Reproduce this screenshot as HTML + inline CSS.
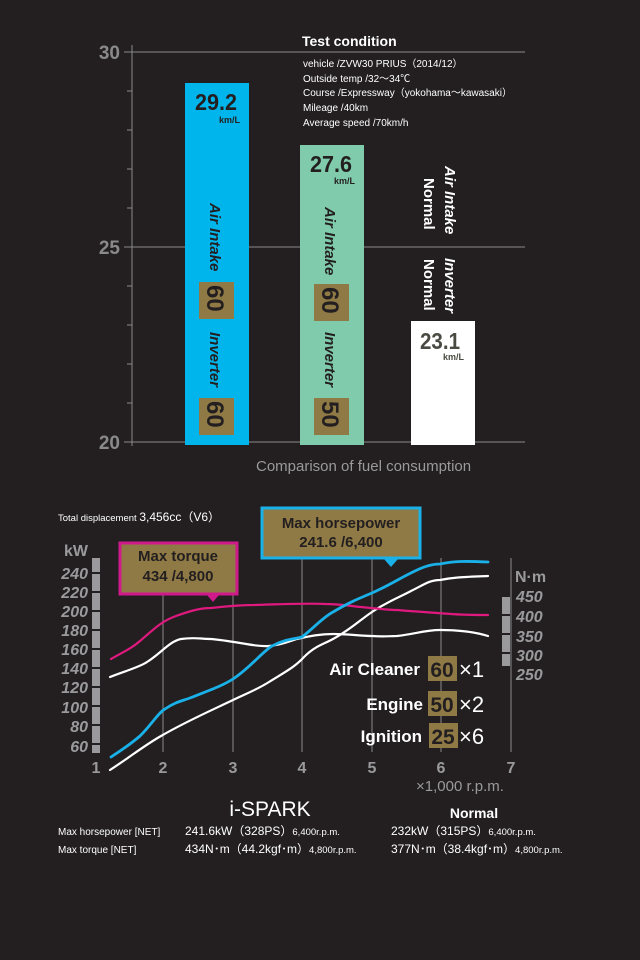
<!DOCTYPE html>
<html><head><meta charset="utf-8"><style>
html,body{margin:0;padding:0;background:#231f20;}
svg{display:block}
text{font-family:"Liberation Sans","Noto Sans CJK JP",sans-serif}
</style></head><body>
<svg width="640" height="960" viewBox="0 0 640 960" xmlns="http://www.w3.org/2000/svg">
<rect width="640" height="960" fill="#231f20"/>
<g stroke="#8a8a8a" stroke-width="1">
<line x1="132" y1="45" x2="132" y2="446"/>
<line x1="124" y1="52" x2="525" y2="52"/>
<line x1="124" y1="247" x2="525" y2="247"/>
<line x1="124" y1="442" x2="525" y2="442"/>
<line x1="127" y1="91" x2="132" y2="91"/><line x1="127" y1="130" x2="132" y2="130"/>
<line x1="127" y1="169" x2="132" y2="169"/><line x1="127" y1="208" x2="132" y2="208"/>
<line x1="127" y1="286" x2="132" y2="286"/><line x1="127" y1="325" x2="132" y2="325"/>
<line x1="127" y1="364" x2="132" y2="364"/><line x1="127" y1="403" x2="132" y2="403"/>
</g>
<g fill="#8a8a8a" font-weight="bold" font-size="19" text-anchor="end">
<text x="120" y="59">30</text><text x="120" y="254">25</text><text x="120" y="449">20</text>
</g>
<text x="302" y="46" fill="#fff" font-weight="bold" font-size="14">Test condition</text>
<g fill="#fff" font-size="10">
<text x="303" y="67">vehicle /ZVW30 PRIUS（2014/12）</text>
<text x="303" y="82">Outside temp /32～34℃</text>
<text x="303" y="96">Course /Expressway（yokohama～kawasaki）</text>
<text x="303" y="111">Mileage /40km</text>
<text x="303" y="126">Average speed /70km/h</text>
</g>
<rect x="185" y="83" width="64" height="362" fill="#00b5ec"/>
<rect x="300" y="145" width="64" height="300" fill="#7fcbab"/>
<rect x="411" y="321" width="64" height="124" fill="#fff"/>
<g font-weight="bold" fill="#231f20">
<text x="237" y="110" font-size="23" text-anchor="end" textLength="42" lengthAdjust="spacingAndGlyphs">29.2</text>
<text x="240" y="123" font-size="9" text-anchor="end">km/L</text>
<text x="352" y="172" font-size="23" text-anchor="end" textLength="42" lengthAdjust="spacingAndGlyphs">27.6</text>
<text x="355" y="184" font-size="9" text-anchor="end">km/L</text>
</g>
<g font-weight="bold" fill="#4a4a42">
<text x="460" y="349" font-size="23" text-anchor="end" textLength="40" lengthAdjust="spacingAndGlyphs">23.1</text>
<text x="464" y="360" font-size="9" text-anchor="end">km/L</text>
</g>
<g font-weight="bold" font-style="italic" font-size="15" fill="#231f20">
<text transform="translate(210,203) rotate(90)">Air Intake</text>
<text transform="translate(210,332) rotate(90)">Inverter</text>
<text transform="translate(325,207) rotate(90)">Air Intake</text>
<text transform="translate(325,332) rotate(90)">Inverter</text>
</g>
<g fill="#8f7a45">
<rect x="199" y="282" width="35" height="37"/><rect x="199" y="398" width="35" height="37"/>
<rect x="314" y="284" width="35" height="37"/><rect x="314" y="398" width="35" height="37"/>
</g>
<g font-weight="bold" font-size="24" fill="#231f20">
<text transform="translate(207,285) rotate(90)">60</text>
<text transform="translate(207,401) rotate(90)">60</text>
<text transform="translate(322,287) rotate(90)">60</text>
<text transform="translate(322,401) rotate(90)">50</text>
</g>
<g font-weight="bold" font-size="15" fill="#fff">
<text transform="translate(445,166) rotate(90)" font-style="italic">Air Intake</text>
<text transform="translate(424,178) rotate(90)">Normal</text>
<text transform="translate(445,258) rotate(90)" font-style="italic">Inverter</text>
<text transform="translate(424,259) rotate(90)">Normal</text>
</g>
<text x="256" y="471" fill="#9a9a9a" font-size="15">Comparison of fuel consumption</text>

<text x="58" y="521" fill="#fff" font-size="9.5">Total displacement <tspan font-size="12">3,456cc（V6）</tspan></text>
<g stroke="#8a8a8a" stroke-width="1">
<line x1="163" y1="558" x2="163" y2="752"/><line x1="233" y1="558" x2="233" y2="752"/>
<line x1="302" y1="558" x2="302" y2="752"/><line x1="372" y1="558" x2="372" y2="752"/>
<line x1="441" y1="558" x2="441" y2="752"/><line x1="511" y1="558" x2="511" y2="752"/>
</g>
<g fill="#9a9a9c">
<rect x="92" y="558" width="8" height="14"/><rect x="92" y="574" width="8" height="17"/>
<rect x="92" y="593" width="8" height="17"/><rect x="92" y="612" width="8" height="17"/>
<rect x="92" y="631" width="8" height="17"/><rect x="92" y="650" width="8" height="17"/>
<rect x="92" y="669" width="8" height="17"/><rect x="92" y="688" width="8" height="17"/>
<rect x="92" y="707" width="8" height="17"/><rect x="92" y="726" width="8" height="17"/>
<rect x="92" y="745" width="8" height="8"/>
<rect x="502" y="597" width="8" height="17"/><rect x="502" y="616" width="8" height="17"/>
<rect x="502" y="635" width="8" height="17"/><rect x="502" y="654" width="8" height="12"/>
</g>
<g fill="#9a9a9c" font-weight="bold" font-style="italic" font-size="16" text-anchor="end">
<text x="88" y="556" font-style="normal">kW</text>
<text x="88" y="579">240</text><text x="88" y="598">220</text><text x="88" y="617">200</text>
<text x="88" y="636">180</text><text x="88" y="655">160</text><text x="88" y="674">140</text>
<text x="88" y="693">120</text><text x="88" y="713">100</text><text x="88" y="732">80</text>
<text x="88" y="752">60</text>
</g>
<g fill="#9a9a9c" font-weight="bold" font-style="italic" font-size="16">
<text x="515" y="582" font-style="normal">N·m</text>
<text x="516" y="602">450</text><text x="516" y="622">400</text><text x="516" y="642">350</text>
<text x="516" y="661">300</text><text x="516" y="680">250</text>
</g>
<g fill="#9a9a9c" font-weight="bold" font-size="16" text-anchor="middle">
<text x="96" y="773">1</text><text x="163" y="773">2</text><text x="233" y="773">3</text>
<text x="302" y="773">4</text><text x="372" y="773">5</text><text x="441" y="773">6</text><text x="511" y="773">7</text>
</g>
<text x="416" y="791" fill="#9a9a9c" font-size="15">×1,000 r.p.m.</text>
<g fill="none" stroke-width="2.2" stroke-linecap="round" stroke-linejoin="round">
<path stroke="#fff" d="M110,677 C125,671 140,667 147,662 C160,654 170,641 181,639 C195,637 200,639 211,639 C235,641 255,647 269,646 C282,645 290,641 297,639 C310,636 320,634 333,634 C350,634 360,636 372,636 C385,637 390,636 397,636 C415,634 425,630 440,630 C460,630 475,632 488,636"/>
<path stroke="#fff" d="M110,770 C130,757 145,745 161,736 C185,722 210,711 233,700 C250,692 258,689 269,682 C285,672 295,667 304,657 C315,646 322,645 333,639 C350,630 360,620 372,612 C390,600 400,597 411,591 C425,584 430,580 440,580 C455,577 465,577 488,576"/>
<path stroke="#e0197f" d="M111,659 C125,651 132,648 140,641 C155,628 162,621 176,616 C190,611 200,608 211,608 C230,606 240,605 254,605 C290,604 310,603 326,604 C340,604 350,606 361,607 C380,609 390,610 397,610 C420,612 440,613 451,614 C465,615 475,615 488,615"/>
<path stroke="#1ab0e8" stroke-width="2.8" d="M111,757 C125,748 133,742 140,736 C152,724 158,713 165,709 C175,702 182,701 190,698 C210,690 222,686 233,679 C250,668 262,652 272,646 C285,639 295,639 302,637 C315,627 322,618 333,612 C350,602 360,598 372,593 C390,585 400,578 415,571 C425,566 432,564 440,564 C455,561 465,561 488,562"/>
</g>
<rect x="120" y="543" width="117" height="51" fill="#8f7a45" stroke="#d0198a" stroke-width="3"/>
<polygon points="207,595 219,595 213,602" fill="#d0198a"/>
<text x="178" y="561" fill="#231f20" font-weight="bold" font-size="15" text-anchor="middle">Max torque</text>
<text x="178" y="581" fill="#231f20" font-weight="bold" font-size="15" text-anchor="middle">434 /4,800</text>
<rect x="262" y="508" width="158" height="50" fill="#8f7a45" stroke="#1ab0e8" stroke-width="3"/>
<polygon points="384,559 398,559 391,567" fill="#1ab0e8"/>
<text x="341" y="528" fill="#231f20" font-weight="bold" font-size="15" text-anchor="middle">Max horsepower</text>
<text x="341" y="547" fill="#231f20" font-weight="bold" font-size="15" text-anchor="middle">241.6 /6,400</text>
<g fill="#8f7a45">
<rect x="428" y="656" width="29" height="25"/><rect x="428" y="691" width="29" height="25"/><rect x="429" y="723" width="29" height="25"/>
</g>
<g fill="#fff" font-weight="bold" font-size="17" text-anchor="end">
<text x="420" y="675">Air Cleaner</text><text x="423" y="710">Engine</text><text x="422" y="742">Ignition</text>
</g>
<g fill="#231f20" font-weight="bold" font-size="21" text-anchor="middle">
<text x="442" y="677">60</text><text x="442" y="712">50</text><text x="443" y="744">25</text>
</g>
<g fill="#fff" font-size="22">
<text x="459" y="677">×1</text><text x="459" y="712">×2</text><text x="459" y="744">×6</text>
</g>
<text x="270" y="816" fill="#fff" font-size="21" text-anchor="middle">i-SPARK</text>
<text x="474" y="818" fill="#fff" font-weight="bold" font-size="14" text-anchor="middle">Normal</text>
<g fill="#fff" font-size="10">
<text x="58" y="835">Max horsepower [NET]</text>
<text x="58" y="853">Max torque [NET]</text>
<text x="185" y="835" font-size="12">241.6kW（328PS）<tspan font-size="9.5">6,400r.p.m.</tspan></text>
<text x="185" y="853" font-size="12">434N･m（44.2kgf･m）<tspan font-size="9.5">4,800r.p.m.</tspan></text>
<text x="391" y="835" font-size="12">232kW（315PS）<tspan font-size="9.5">6,400r.p.m.</tspan></text>
<text x="391" y="853" font-size="12">377N･m（38.4kgf･m）<tspan font-size="9.5">4,800r.p.m.</tspan></text>
</g>
</svg>
</body></html>
